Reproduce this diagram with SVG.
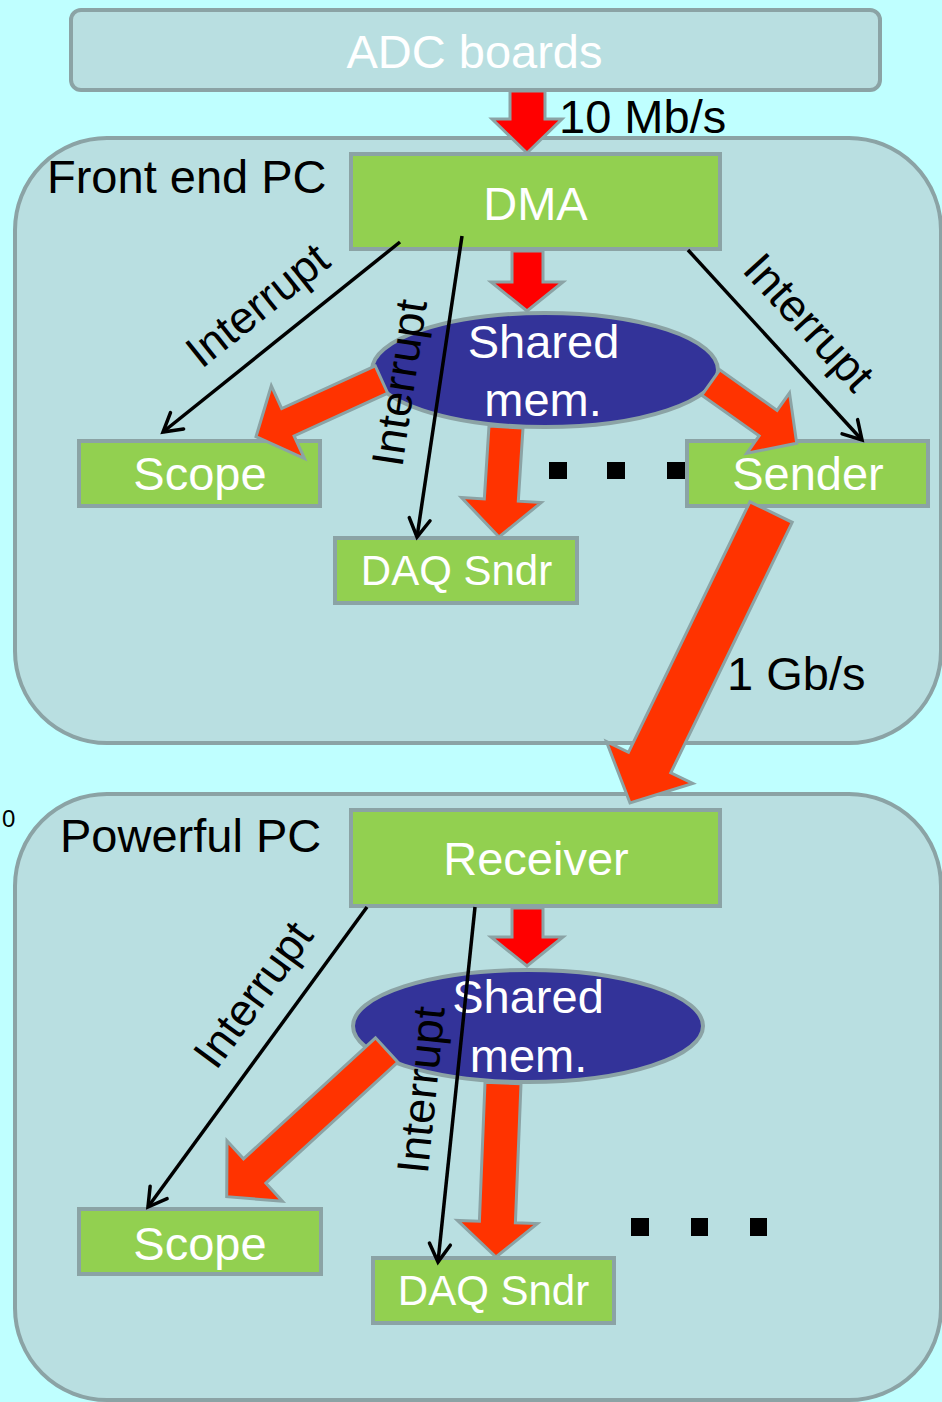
<svg xmlns="http://www.w3.org/2000/svg" width="942" height="1402" viewBox="0 0 942 1402">
<style>
.bg{fill:#BFFFFF}
.cont{fill:#B9DFE1;stroke:#8BA3A5;stroke-width:4}
.box{fill:#92D050;stroke:#8BA3A5;stroke-width:4}
.ell{fill:#333399;stroke:#8BA3A5;stroke-width:4}
.ar1{fill:#FF0000;stroke:#8BA3A5;stroke-width:3;stroke-linejoin:miter}
.ar2{fill:#FF3300;stroke:#8BA3A5;stroke-width:3;stroke-linejoin:miter}
.ln{stroke:#000;stroke-width:3.5;fill:none;marker-end:url(#vhead)}
.t{font-family:"Liberation Sans",Arial,sans-serif;font-size:47px}
.w{fill:#FFFFFF;text-anchor:middle}
.k{fill:#000000}
.il{font-family:"Liberation Sans",Arial,sans-serif;font-size:45px;fill:#000;text-anchor:middle}
.dot{fill:#000}
</style>
<defs>
<marker id="vhead" markerUnits="userSpaceOnUse" viewBox="-22 -14 26 28" refX="0" refY="0" markerWidth="26" markerHeight="28" orient="auto">
<path d="M-18,-10.5 L0,0 L-18,10.5" fill="none" stroke="#000" stroke-width="3.5" stroke-linecap="round" stroke-linejoin="miter"/>
</marker>
</defs>
<rect class="bg" x="0" y="0" width="942" height="1402"/>

<g id="front-end-pc">
<rect class="cont" x="15" y="138" width="926" height="605" rx="92" ry="92"/>
<text class="t k" x="47" y="193">Front end PC</text>
</g>
<g id="powerful-pc">
<rect class="cont" x="15" y="794" width="926" height="606" rx="92" ry="92"/>
<text class="t k" x="60" y="852">Powerful PC</text>
</g>
<text x="2" y="827" font-family="Liberation Sans,Arial,sans-serif" font-size="24" fill="#000">0</text>

<g id="adc">
<rect class="cont" x="71" y="10" width="809" height="80" rx="10" ry="10"/>
<text class="t w" x="474.5" y="68">ADC boards</text>
</g>
<g id="dma">
<rect class="box" x="351" y="154" width="369" height="95"/>
<text class="t w" x="535.5" y="220">DMA</text>
</g>
<g id="shared1">
<ellipse class="ell" cx="545" cy="370" rx="173" ry="57"/>
<text class="t w" x="543.5" y="358">Shared</text>
<text class="t w" x="543" y="416">mem.</text>
</g>
<g id="scope1">
<rect class="box" x="79" y="441" width="241" height="65"/>
<text class="t w" x="200" y="490">Scope</text>
</g>
<g id="sender">
<rect class="box" x="687" y="441" width="241" height="65"/>
<text class="t w" x="808" y="490">Sender</text>
</g>
<g id="daq1">
<rect class="box" x="335" y="538" width="242" height="65"/>
<text class="t w" x="456.5" y="585" style="font-size:42px">DAQ Sndr</text>
</g>
<g id="dots1">
<rect class="dot" x="549" y="462" width="18" height="17"/>
<rect class="dot" x="607" y="462" width="18" height="17"/>
<rect class="dot" x="667" y="462" width="18" height="17"/>
</g>
<g id="receiver">
<rect class="box" x="351" y="810" width="369" height="96"/>
<text class="t w" x="536" y="875">Receiver</text>
</g>
<g id="shared2">
<ellipse class="ell" cx="528" cy="1026" rx="175" ry="56"/>
<text class="t w" x="528" y="1013">Shared</text>
<text class="t w" x="528.5" y="1072">mem.</text>
</g>
<g id="scope2">
<rect class="box" x="79" y="1209" width="242" height="65"/>
<text class="t w" x="200" y="1260">Scope</text>
</g>
<g id="daq2">
<rect class="box" x="373" y="1258" width="241" height="65"/>
<text class="t w" x="493.5" y="1305" style="font-size:42px">DAQ Sndr</text>
</g>
<g id="dots2">
<rect class="dot" x="631" y="1218" width="18" height="18"/>
<rect class="dot" x="691" y="1218" width="17" height="18"/>
<rect class="dot" x="750" y="1218" width="17" height="18"/>
</g>

<g id="connectors">
<polygon class="ar1" points="510,91 545,91 545,119 562,119 527,153 492,119 510,119"/>
<text class="t k" x="559" y="133">10 Mb/s</text>
<polygon class="ar1" points="512,251 543,251 543,282 563,282 527,311 491,282 512,282"/>
<polygon class="ar2" points="489,425.9 484.3,499 461.4,497.6 499,537 541.2,502.6 518.3,501.2 523,428.1"/>
<polygon class="ar2" points="375.3,365.9 281.7,408.6 271.3,385.8 256,436.7 304.5,458.6 294.1,435.9 387.7,393.2"/>
<polygon class="ar2" points="701.8,395.2 759.1,435.8 746.7,453.3 796.7,443.3 789.5,392.9 777.1,410.4 719.8,369.8"/>
<polygon class="ar2" points="749.9,501.8 628.5,752.3 606.4,741.6 630,803 692.8,783.4 670.8,772.8 792.2,522.3"/>
<text class="t k" x="727" y="690">1 Gb/s</text>
<polygon class="ar1" points="512,908 543,908 543,937 563,937 527,966 491,937 512,937"/>
<polygon class="ar2" points="375.5,1037.8 243.5,1158.8 227,1140.8 226.7,1196.7 282.4,1201.2 265.9,1183.2 397.9,1062.2"/>
<polygon class="ar2" points="485,1082.3 479.4,1221.3 457.4,1220.4 496,1257 537.4,1223.6 515.4,1222.7 521,1083.7"/>

<line class="ln" x1="400" y1="242" x2="163" y2="432"/>
<line class="ln" x1="462" y1="236" x2="417" y2="537"/>
<line class="ln" x1="688" y1="250" x2="862" y2="440"/>
<line class="ln" x1="367" y1="907" x2="148" y2="1207"/>
<line class="ln" x1="475" y1="907" x2="438" y2="1262"/>
<text class="il" transform="translate(267,317) rotate(-38.7)">Interrupt</text>
<text class="il" transform="translate(414.6,385) rotate(-81.5)">Interrupt</text>
<text class="il" transform="translate(797.7,332.6) rotate(47.5)">Interrupt</text>
<text class="il" transform="translate(265.5,1003.6) rotate(-53.8)">Interrupt</text>
<text class="il" transform="translate(436.3,1091.4) rotate(-84.2)">Interrupt</text>
</g>
</svg>
